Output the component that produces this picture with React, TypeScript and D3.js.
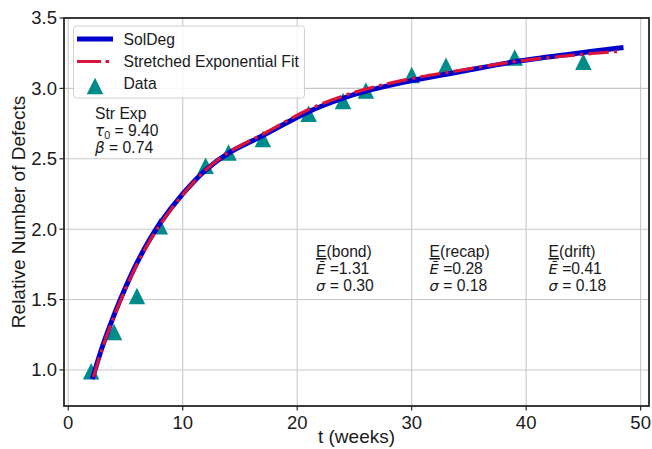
import React from "react";
import * as d3 from "d3";

const dataT = [2, 4, 6, 8, 12, 14, 17, 21, 24, 26, 30, 33, 39, 45];
const dataV = [0.99, 1.27, 1.525, 2.02, 2.45, 2.545, 2.64, 2.82, 2.91, 2.985, 3.095, 3.16, 3.22, 3.19];

const solT = [2.1, 3, 4, 5, 6, 7, 8, 10, 12, 14, 17, 21, 24, 26, 30, 34, 39, 44, 48.5];
const solV = [0.935, 1.17, 1.39, 1.585, 1.76, 1.91, 2.04, 2.25, 2.42, 2.54, 2.665, 2.835, 2.93, 2.98, 3.055, 3.115, 3.19, 3.245, 3.29];

const fitT = [2.2, 3, 4, 5, 6, 7, 8, 10, 12, 14, 17, 21, 24, 26, 30, 34, 39, 44, 48.4];
const fitV = [0.95, 1.16, 1.38, 1.575, 1.75, 1.9, 2.03, 2.245, 2.42, 2.545, 2.675, 2.85, 2.945, 2.995, 3.07, 3.125, 3.19, 3.235, 3.265];

const xTicks = [0, 10, 20, 30, 40, 50];
const yTicks = [1.0, 1.5, 2.0, 2.5, 3.0, 3.5];

const W = 652;
const H = 449;
const L = 64, R = 649, T = 18, B = 406;

const FONT = "'Liberation Sans', Arial, sans-serif";
const MATH = "'DejaVu Sans', sans-serif";
const BLUE = "#0000cd";
const RED = "#dc143c";
const TEAL = "#008b8b";

function tri(cx: number, cy: number, s: number) {
  const h = s / 2;
  return `M${cx},${cy - h}L${cx - h},${cy + h}L${cx + h},${cy + h}Z`;
}

export default function App() {
  const x = d3.scaleLinear().domain([-0.37, 50.73]).range([L, R]);
  const y = d3.scaleLinear().domain([0.744, 3.5]).range([B, T]);

  const line = d3
    .line<[number, number]>()
    .x((d) => x(d[0]))
    .y((d) => y(d[1]))
    .curve(d3.curveCatmullRom.alpha(0.5));

  const solPath = line(solT.map((t, i) => [t, solV[i]]) as [number, number][]) || "";
  const fitPath = line(fitT.map((t, i) => [t, fitV[i]]) as [number, number][]) || "";

  const fs = 15.7;
  const ann = (x0: number, label: string, ebar: string, sig: string) => (
    <g key={label}>
      <text x={x0} y={257} fontFamily={FONT} fontSize={fs} fill="#1a1a1a">
        <tspan textDecoration="underline">E</tspan>
        {label}
      </text>
      <text x={x0} y={274} fontFamily={FONT} fontSize={fs} fill="#1a1a1a">
        <tspan fontFamily={MATH} fontStyle="italic" fontSize={fs - 1}>Ē</tspan>
        {" =" + ebar}
      </text>
      <text x={x0} y={291} fontFamily={FONT} fontSize={fs} fill="#1a1a1a">
        <tspan fontFamily={MATH} fontStyle="italic" fontSize={fs - 1}>σ</tspan>
        {" = " + sig}
      </text>
    </g>
  );

  return (
    <svg
      width={W}
      height={H}
      style={{ position: "absolute", left: 0, top: 0, background: "#fff" }}
    >
      <rect x={0} y={0} width={W} height={H} fill="#fff" />
      {/* grid */}
      {xTicks.map((t) => (
        <line key={"gx" + t} x1={x(t)} x2={x(t)} y1={T} y2={B} stroke="#c8c8c8" strokeWidth={1.1} />
      ))}
      {yTicks.map((t) => (
        <line key={"gy" + t} x1={L} x2={R} y1={y(t)} y2={y(t)} stroke="#c8c8c8" strokeWidth={1.1} />
      ))}

      {/* data triangles */}
      {dataT.map((t, i) => (
        <path key={"d" + i} d={tri(x(t), y(dataV[i]), 16.5)} fill={TEAL} />
      ))}

      {/* curves */}
      <path d={solPath} fill="none" stroke={BLUE} strokeWidth={5} />
      <path
        d={fitPath}
        fill="none"
        stroke={RED}
        strokeWidth={3.2}
        strokeDasharray="20.5 5.1 3.2 5.1"
      />

      {/* spines */}
      <rect x={L} y={T} width={R - L} height={B - T} fill="none" stroke="#262626" strokeWidth={1.8} />

      {/* ticks */}
      {xTicks.map((t) => (
        <g key={"tx" + t}>
          <line x1={x(t)} x2={x(t)} y1={B} y2={B + 4.5} stroke="#262626" strokeWidth={1.2} />
          <text x={x(t)} y={B + 23} textAnchor="middle" fontFamily={FONT} fontSize={18.5} fill="#1a1a1a">
            {t}
          </text>
        </g>
      ))}
      {yTicks.map((t) => (
        <g key={"ty" + t}>
          <line x1={L - 4.5} x2={L} y1={y(t)} y2={y(t)} stroke="#262626" strokeWidth={1.2} />
          <text
            x={L - 7}
            y={y(t)}
            dy="0.35em"
            textAnchor="end"
            fontFamily={FONT}
            fontSize={18.5}
            fill="#1a1a1a"
          >
            {t.toFixed(1)}
          </text>
        </g>
      ))}

      {/* axis labels */}
      <text x={(L + R) / 2} y={443} textAnchor="middle" fontFamily={FONT} fontSize={19} fill="#1a1a1a">
        t (weeks)
      </text>
      <text
        transform={`translate(25,${(T + B) / 2}) rotate(-90)`}
        textAnchor="middle"
        fontFamily={FONT}
        fontSize={19}
        fill="#1a1a1a"
      >
        Relative Number of Defects
      </text>

      {/* legend */}
      <rect x={73.5} y={26} width={231} height={72} rx={3} fill="#fff" fillOpacity={0.85} stroke="#d0d0d0" strokeWidth={1} />
      <line x1={77} x2={113} y1={39} y2={39} stroke={BLUE} strokeWidth={5} />
      <text x={123.5} y={45} fontFamily={FONT} fontSize={fs} fill="#1a1a1a">SolDeg</text>
      <line x1={77} x2={113} y1={61.5} y2={61.5} stroke={RED} strokeWidth={3.2} strokeDasharray="24 4.5 3.5 4.5" />
      <text x={123.5} y={67} fontFamily={FONT} fontSize={fs} fill="#1a1a1a">Stretched Exponential Fit</text>
      <path d={tri(95, 86, 16.5)} fill={TEAL} />
      <text x={123.5} y={88.5} fontFamily={FONT} fontSize={fs} fill="#1a1a1a">Data</text>

      {/* str exp annotation */}
      <text x={95} y={119} fontFamily={FONT} fontSize={fs} fill="#1a1a1a">Str Exp</text>
      <text x={95} y={136} fontFamily={FONT} fontSize={fs} fill="#1a1a1a">
        <tspan fontFamily={MATH} fontStyle="italic" fontSize={fs - 0.5}>τ</tspan>
        <tspan fontSize={fs * 0.68} dy={2.5}>0</tspan>
        <tspan dy={-2.5}>{" = 9.40"}</tspan>
      </text>
      <text x={95} y={153} fontFamily={FONT} fontSize={fs} fill="#1a1a1a">
        <tspan fontFamily={MATH} fontStyle="italic" fontSize={fs - 0.5}>β</tspan>
        {" = 0.74"}
      </text>

      {ann(316, "(bond)", "1.31", "0.30")}
      {ann(429.5, "(recap)", "0.28", "0.18")}
      {ann(548.5, "(drift)", "0.41", "0.18")}
    </svg>
  );
}
